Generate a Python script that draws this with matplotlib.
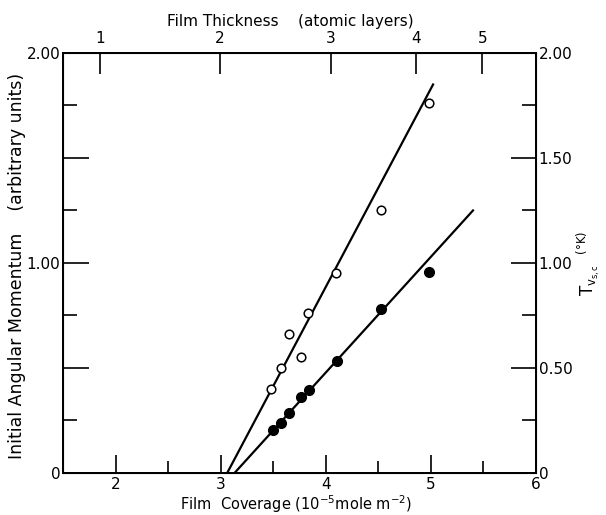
import matplotlib
matplotlib.use("Agg")
import matplotlib.pyplot as plt

# film coverage (1e-5 mole m^-2) and values
open_x = [3.48, 3.57, 3.65, 3.76, 3.83, 4.10, 4.52, 4.98]
open_y = [0.40, 0.50, 0.66, 0.55, 0.76, 0.95, 1.25, 1.76]
filled_x = [3.50, 3.57, 3.65, 3.76, 3.84, 4.11, 4.52, 4.98]
filled_y = [0.205, 0.24, 0.285, 0.36, 0.395, 0.535, 0.78, 0.955]

# fitted straight lines (end points)
open_fit_x = [3.06, 5.02]
open_fit_y = [0.0, 1.85]
filled_fit_x = [3.13, 5.40]
filled_fit_y = [0.0, 1.25]

# top axis: film thickness in atomic layers, placed on the coverage scale
layer_labels = ["1", "2", "3", "4", "5"]
layer_pos = [1.85, 2.99, 4.05, 4.86, 5.49]

bottom_ticks = [2, 3, 4, 5, 6]
left_labels = {0: "0", 1.0: "1.00", 2.0: "2.00"}
right_labels = {0: "0", 0.5: "0.50", 1.0: "1.00", 1.5: "1.50", 2.0: "2.00"}

plt.rcParams["font.family"] = ["DejaVu Sans"]
fs = 11

fig = plt.figure(figsize=(6.06, 5.15), dpi=100)
ax = fig.add_axes([0.1045, 0.0816, 0.78, 0.8155])

ax.plot(open_fit_x, open_fit_y, color="black", lw=1.6, zorder=2)
ax.plot(filled_fit_x, filled_fit_y, color="black", lw=1.6, zorder=2)
ax.plot(open_x, open_y, "o", ms=6.2, mfc="white", mec="black", mew=1.1, zorder=3)
ax.plot(filled_x, filled_y, "o", ms=7.0, mfc="black", mec="black", zorder=3)

ax.set_xlim(1.5, 6)
ax.set_ylim(0, 2)

for s in ax.spines.values():
    s.set_linewidth(1.4)

# bottom axis
ax.set_xticks(bottom_ticks)
ax.set_xticklabels([str(t) for t in bottom_ticks], fontsize=fs)
ax.set_xticks([2.5, 3.5, 4.5, 5.5], minor=True)
ax.tick_params(axis="x", which="major", direction="in", length=13, width=1.2, pad=3)
ax.tick_params(axis="x", which="minor", direction="in", length=9, width=1.2)
ax.set_xlabel(r"Film  Coverage (10$^{-5}$mole m$^{-2}$)", fontsize=10.5, va="center")
ax.xaxis.set_label_coords(0.492, -0.075)

# left axis
ax.set_yticks([0, 0.5, 1.0, 1.5, 2.0])
ax.set_yticklabels([left_labels.get(t, "") for t in [0, 0.5, 1.0, 1.5, 2.0]], fontsize=fs)
ax.set_yticks([0.25, 0.75, 1.25, 1.75], minor=True)
ax.tick_params(axis="y", which="major", direction="in", length=19, width=1.2, pad=2)
ax.tick_params(axis="y", which="minor", direction="in", length=10, width=1.2)
ax.set_ylabel("Initial Angular Momentum    (arbitrary units)", fontsize=12.5, va="center")
ax.yaxis.set_label_coords(-0.098, 0.493)

# right axis
ax2 = ax.twinx()
ax2.set_ylim(ax.get_ylim())
ax2.set_yticks([0, 0.5, 1.0, 1.5, 2.0])
ax2.set_yticklabels([right_labels[t] for t in [0, 0.5, 1.0, 1.5, 2.0]], fontsize=fs)
ax2.set_yticks([0.25, 0.75, 1.25, 1.75], minor=True)
ax2.tick_params(axis="y", which="major", direction="in", length=18, width=1.2, pad=2)
ax2.tick_params(axis="y", which="minor", direction="in", length=10, width=1.2)
ax2.set_ylabel(r"T$_{\mathrm{v}_{\mathrm{s,c}}}$  $^{(\degree\mathrm{K})}$", fontsize=12, va="center")
ax2.yaxis.set_label_coords(1.11, 0.50)
for s in ax2.spines.values():
    s.set_linewidth(1.4)

# top axis
ax3 = ax.twiny()
ax3.set_xlim(ax.get_xlim())
ax3.set_xticks(layer_pos)
ax3.set_xticklabels(layer_labels, fontsize=fs)
ax3.tick_params(axis="x", direction="in", length=15, width=1.2, pad=5)
ax3.set_xlabel("Film Thickness    (atomic layers)", fontsize=fs, va="center")
ax3.xaxis.set_label_coords(0.48, 1.074)

fig.savefig("out.png", dpi=100)
